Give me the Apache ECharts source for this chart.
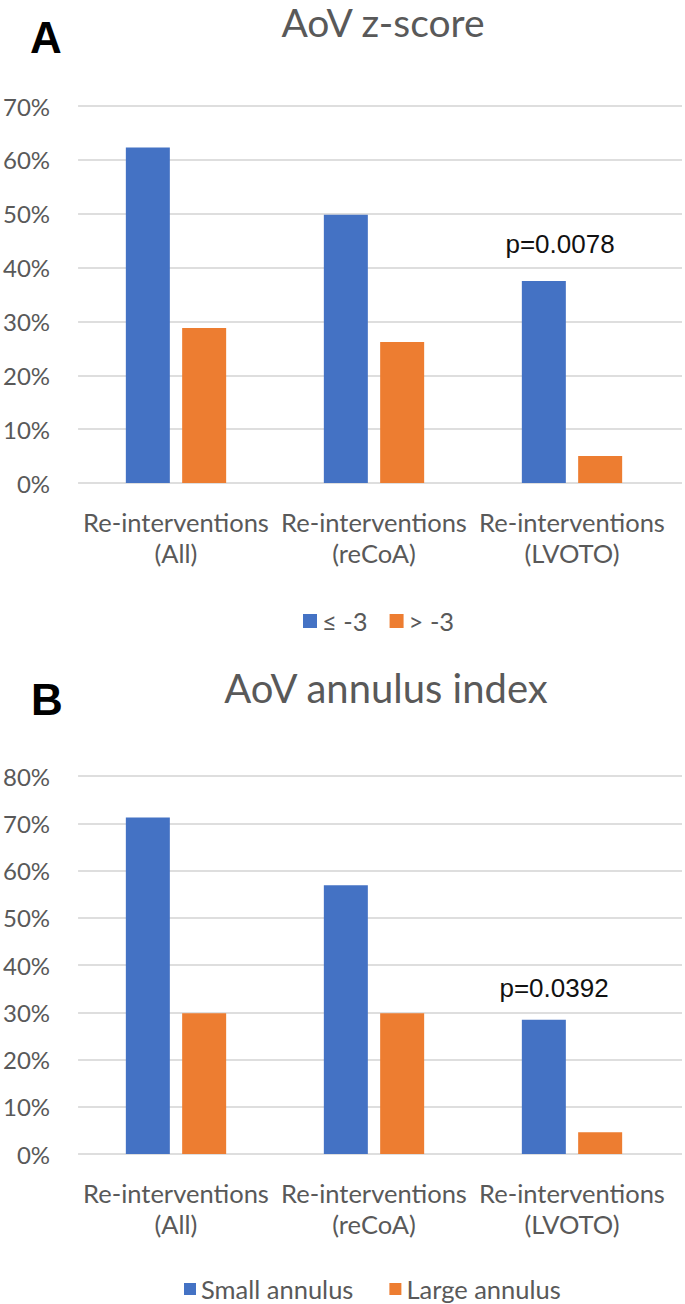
<!DOCTYPE html>
<html>
<head>
<meta charset="utf-8">
<script src="https://cdn.jsdelivr.net/npm/echarts@6/dist/echarts.min.js"></script>
<style>
html,body{margin:0;padding:0;background:#fff;}
#chart{width:685px;height:1304px;}
</style>
</head>
<body>
<div id="chart"></div>
<script>
// ---- data ----
const categories = ['Re-interventions\n(All)', 'Re-interventions\n(reCoA)', 'Re-interventions\n(LVOTO)'];

const topTitle = 'AoV z-score';
const topSeriesNames = ['≤ -3', '> -3'];
const topLow = [62.3, 49.8, 37.5];
const topHigh = [28.8, 26.2, 5.0];
const topP = 'p=0.0078';
const topPValue = 44.3;
const topYMax = 70;

const botTitle = 'AoV annulus index';
const botSeriesNames = ['Small annulus', 'Large annulus'];
const botSmall = [71.2, 56.9, 28.4];
const botLarge = [29.8, 29.8, 4.6];
const botP = 'p=0.0392';
const botPValue = 35.1;
const botYMax = 80;

const yInterval = 10;

// ---- styles ----
const BLUE = '#4472C4', ORANGE = '#ED7D31', GREY = '#595959', GRID = '#dedede';
const FONT = 'Lato';

const chart = echarts.init(document.getElementById('chart'), null, {renderer: 'svg'});

function lineGrid(top, height) { return {left: 78, right: 3, top: top, height: height}; }
function barGrid(top, height) { return {left: 77, width: 594, top: top, height: height}; }

const grids = [lineGrid(106, 377), barGrid(106, 377), lineGrid(776, 378), barGrid(776, 378)];

function hiddenX(gi) {
  return {type: 'category', gridIndex: gi, data: categories, show: false};
}
function labelX(gi) {
  return {
    type: 'category', gridIndex: gi, data: categories,
    axisLine: {show: false}, axisTick: {show: false},
    axisLabel: {color: GREY, fontFamily: FONT, fontSize: 25.5, lineHeight: 31, margin: 23, interval: 0}
  };
}
function labelY(gi, max) {
  return {
    type: 'value', gridIndex: gi, min: 0, max: max, interval: yInterval,
    axisLine: {show: false}, axisTick: {show: false},
    axisLabel: {color: GREY, fontFamily: FONT, fontSize: 24, margin: 28, formatter: '{value}%'},
    splitLine: {lineStyle: {color: GRID, width: 2}}
  };
}
function hiddenY(gi, max) {
  return {type: 'value', gridIndex: gi, min: 0, max: max, interval: yInterval, show: false, splitLine: {show: false}};
}

function bar(name, data, xi, yi, color) {
  return {
    name: name, type: 'bar', xAxisIndex: xi, yAxisIndex: yi, data: data,
    barWidth: 44, barGap: '28%',
    itemStyle: {color: color},
    emphasis: {disabled: true}, animation: false
  };
}

const legendText = {color: GREY, fontFamily: FONT, fontSize: 25.5};

chart.setOption({
  animation: false,
  grid: grids,
  xAxis: [hiddenX(0), labelX(1), hiddenX(2), labelX(3)],
  yAxis: [labelY(0, topYMax), hiddenY(1, topYMax), labelY(2, botYMax), hiddenY(3, botYMax)],
  legend: [
    {data: topSeriesNames, top: 603, left: 298, itemWidth: 14, itemHeight: 14, itemGap: 22,
     icon: 'rect', textStyle: legendText, selectedMode: false},
    {data: botSeriesNames, top: 1271, left: 179, itemWidth: 12, itemHeight: 12, itemGap: 36,
     icon: 'rect', textStyle: legendText, selectedMode: false}
  ],
  series: [
    bar(topSeriesNames[0], topLow, 1, 1, BLUE),
    bar(topSeriesNames[1], topHigh, 1, 1, ORANGE),
    bar(botSeriesNames[0], botSmall, 3, 3, BLUE),
    bar(botSeriesNames[1], botLarge, 3, 3, ORANGE)
  ]
});

// p-value annotations placed through the chart's own scales
function placeP(xIdx, yIdx, text, val, dx) {
  const pt = chart.convertToPixel({xAxisIndex: xIdx, yAxisIndex: yIdx}, [categories[2], val]);
  return {type: 'text', x: pt[0] + dx, y: pt[1], silent: true,
          style: {text: text, font: '26px "Liberation Sans"', fill: '#111', textAlign: 'center', textVerticalAlign: 'middle'}};
}
chart.setOption({
  graphic: [
    {type: 'text', x: 383, y: 22, style: {text: topTitle, font: '39px Lato', fill: GREY, textAlign: 'center', textVerticalAlign: 'middle'}},
    {type: 'text', x: 46, y: 37, style: {text: 'A', font: 'bold 44px "Liberation Sans"', fill: '#000', textAlign: 'center', textVerticalAlign: 'middle'}},
    {type: 'text', x: 386, y: 688, style: {text: botTitle, font: '40px Lato', fill: GREY, textAlign: 'center', textVerticalAlign: 'middle'}},
    {type: 'text', x: 47, y: 699, style: {text: 'B', font: 'bold 44px "Liberation Sans"', fill: '#000', textAlign: 'center', textVerticalAlign: 'middle'}},
    placeP(1, 1, topP, topPValue, -12),
    placeP(3, 3, botP, botPValue, -18)
  ]
});
</script>
</body>
</html>
